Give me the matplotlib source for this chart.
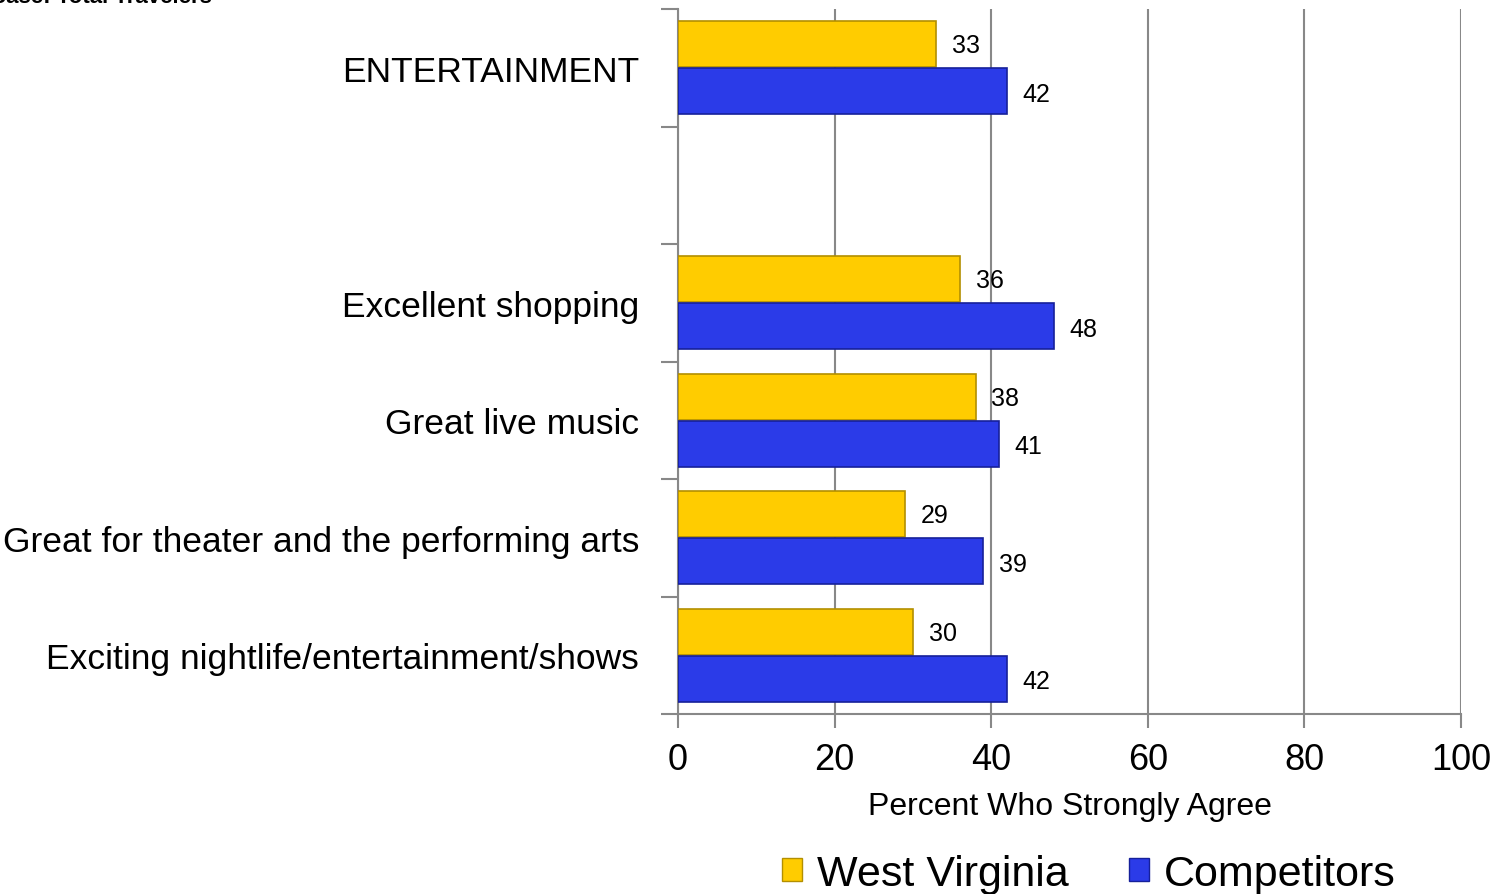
import matplotlib
matplotlib.use("Agg")
import matplotlib.pyplot as plt
from matplotlib.patches import Patch
import numpy as np

categories = ["ENTERTAINMENT", "", "Excellent shopping", "Great live music",
              "Great for theater and the performing arts",
              "Exciting nightlife/entertainment/shows"]
west_virginia = [33, None, 36, 38, 29, 30]
competitors = [42, None, 48, 41, 39, 42]
series_names = ["West Virginia", "Competitors"]
xticks = [0, 20, 40, 60, 80, 100]
xlabel = "Percent Who Strongly Agree"
base_note = "Base: Total Travelers"

plt.rcParams['font.family'] = ['Liberation Sans', 'DejaVu Sans']

W, H = 1497, 895
fig = plt.figure(figsize=(W / 100, H / 100), dpi=100)
ax = fig.add_axes([678 / W, 1 - 715 / H, (1461 - 678) / W, (715 - 10) / H])

yellow = '#FFCC00'
yellow_edge = '#B38F00'
blue = '#2B3BE8'
blue_edge = '#16209A'

pos = np.arange(len(categories))
bh = 0.39
off = 0.2
for i in range(len(categories)):
    if west_virginia[i] is None:
        continue
    ax.barh(pos[i] - off, west_virginia[i], height=bh, color=yellow,
            edgecolor=yellow_edge, linewidth=1.2, zorder=3)
    ax.barh(pos[i] + off, competitors[i], height=bh, color=blue,
            edgecolor=blue_edge, linewidth=1.2, zorder=3)
    ax.text(west_virginia[i] + 2.0, pos[i] - off + 0.01, str(west_virginia[i]),
            ha='left', va='center', fontsize=18, zorder=4)
    ax.text(competitors[i] + 2.0, pos[i] + off + 0.02, str(competitors[i]),
            ha='left', va='center', fontsize=18, zorder=4)

ax.set_xlim(0, 100)
ax.set_ylim(len(categories) - 0.5, -0.5)
ax.set_xticks(xticks)
ax.set_xticklabels([str(t) for t in xticks], fontsize=26)
ax.tick_params(axis='x', length=10, width=1.5, color='#888888', pad=10)

ax.set_yticks(np.arange(-0.5, len(categories), 1.0))
ax.set_yticklabels([])
ax.tick_params(axis='y', which='major', length=12, width=1.5, color='#888888')
ax.set_yticks(pos, minor=True)
ax.set_yticklabels(categories, minor=True, fontsize=25.5)
ax.tick_params(axis='y', which='minor', length=0, pad=28)

ax.grid(axis='x', color='#888888', linewidth=1.5, zorder=0)
for s in ['top', 'right']:
    ax.spines[s].set_visible(False)
for s in ['left', 'bottom']:
    ax.spines[s].set_color('#888888')
    ax.spines[s].set_linewidth(1.5)

ax.set_xlabel(xlabel, fontsize=23, labelpad=10)

handles = [Patch(facecolor=yellow, edgecolor=yellow_edge),
           Patch(facecolor=blue, edgecolor=blue_edge)]
fig.legend(handles, series_names, loc='center', bbox_to_anchor=(1089 / W, 1 - 875 / H),
           ncol=2, fontsize=31, frameon=False, handlelength=0.46, handleheight=0.46,
           handletextpad=0.35, columnspacing=1.4)

fig.text(212 / W, 1 - 3 / H, base_note, ha='right', va='baseline',
         fontsize=16, fontweight='bold')

fig.savefig("out.png", dpi=100)
